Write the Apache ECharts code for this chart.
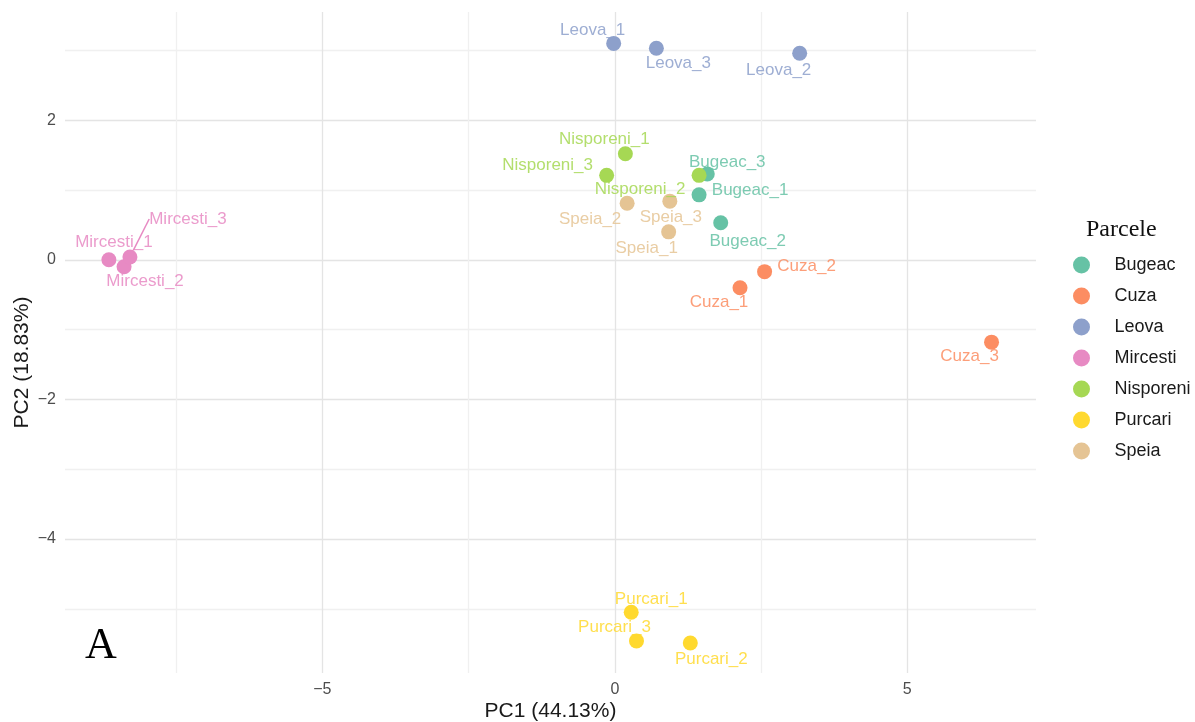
<!DOCTYPE html>
<html>
<head>
<meta charset="utf-8">
<script src="https://cdn.jsdelivr.net/npm/echarts@6/dist/echarts.min.js"></script>
<style>
html,body{margin:0;padding:0;background:#fff;}
#chart{width:1195px;height:722px;}
</style>
</head>
<body>
<div id="chart"></div>
<script>
// ---- data ----
const groups = ['Bugeac','Cuza','Leova','Mircesti','Nisporeni','Purcari','Speia'];
const colors = ['#66C2A5','#FC8D62','#8DA0CB','#E78AC3','#A6D854','#FFD92F','#E5C494'];

const bugeacNames = ['Bugeac_1','Bugeac_2','Bugeac_3'];
const bugeacPC1 = [1.44, 1.81, 1.58];
const bugeacPC2 = [0.93, 0.53, 1.23];

const cuzaNames = ['Cuza_1','Cuza_2','Cuza_3'];
const cuzaPC1 = [2.14, 2.56, 6.44];
const cuzaPC2 = [-0.40, -0.17, -1.18];

const leovaNames = ['Leova_1','Leova_2','Leova_3'];
const leovaPC1 = [-0.02, 3.16, 0.71];
const leovaPC2 = [3.10, 2.96, 3.03];

const mircestiNames = ['Mircesti_1','Mircesti_2','Mircesti_3'];
const mircestiPC1 = [-8.65, -8.39, -8.29];
const mircestiPC2 = [0.00, -0.10, 0.04];

const nisporeniNames = ['Nisporeni_1','Nisporeni_2','Nisporeni_3'];
const nisporeniPC1 = [0.18, 1.44, -0.14];
const nisporeniPC2 = [1.52, 1.21, 1.21];

const purcariNames = ['Purcari_1','Purcari_2','Purcari_3'];
const purcariPC1 = [0.28, 1.29, 0.37];
const purcariPC2 = [-5.05, -5.49, -5.46];

const speiaNames = ['Speia_1','Speia_2','Speia_3'];
const speiaPC1 = [0.92, 0.21, 0.94];
const speiaPC2 = [0.40, 0.81, 0.84];

const xTickLabels = [-5, 0, 5];
const xGridValues = [-7.5, -5, -2.5, 0, 2.5, 5];
const yTickLabels = [-4, -2, 0, 2];
const yGridValues = [-5, -4, -3, -2, -1, 0, 1, 2, 3];

// ---- label placement (pixel offsets, repel-like) ----
const labelOffsets = {
  Bugeac_1:[51,-5], Bugeac_2:[27,19], Bugeac_3:[20,-12],
  Cuza_1:[-21,15], Cuza_2:[42,-5], Cuza_3:[-22,14],
  Leova_1:[-21,-13], Leova_2:[-21,17], Leova_3:[22,15],
  Mircesti_1:[5,-17], Mircesti_2:[21,15], Mircesti_3:[58,-38],
  Nisporeni_1:[-21,-14], Nisporeni_2:[-59,14], Nisporeni_3:[-59,-10],
  Purcari_1:[20,-13], Purcari_2:[21,16], Purcari_3:[-22,-14],
  Speia_1:[-22,16], Speia_2:[-37,16], Speia_3:[1,16]
};
const labelWithSegment = ['Mircesti_3'];

const groupData = [
  [bugeacNames, bugeacPC1, bugeacPC2],
  [cuzaNames, cuzaPC1, cuzaPC2],
  [leovaNames, leovaPC1, leovaPC2],
  [mircestiNames, mircestiPC1, mircestiPC2],
  [nisporeniNames, nisporeniPC1, nisporeniPC2],
  [purcariNames, purcariPC1, purcariPC2],
  [speiaNames, speiaPC1, speiaPC2]
];

const fmt = v => String(v).replace('-', '\u2212');
const FONT = "'Liberation Sans', Arial, sans-serif";

const series = groups.map((g, gi) => {
  const [names, xs, ys] = groupData[gi];
  return {
    name: g,
    type: 'scatter',
    symbol: 'circle',
    symbolSize: 15,
    itemStyle: { color: colors[gi], opacity: 1 },
    label: {
      show: true,
      position: 'inside',
      formatter: p => p.name,
      color: colors[gi],
      opacity: 0.85,
      fontSize: 17,
      fontFamily: FONT
    },
    labelLine: { show: false, lineStyle: { color: colors[gi], width: 1.5 } },
    labelLayout: function (params) {
      const nm = names[params.dataIndex];
      const off = labelOffsets[nm] || [0, 0];
      return { dx: off[0], dy: off[1] };
    },
    data: names.map((n, i) => {
      const item = { name: n, value: [xs[i], ys[i]] };
      if (labelWithSegment.indexOf(n) >= 0) {
        item.labelLine = { show: true, lineStyle: { color: colors[gi], width: 1.5 } };
      }
      return item;
    }),
    emphasis: { disabled: true },
    animation: false
  };
});

const chart = echarts.init(document.getElementById('chart'), null, { renderer: 'canvas' });
chart.setOption({
  backgroundColor: '#ffffff',
  animation: false,
  color: colors,
  grid: { left: 65, right: 159, top: 12, bottom: 49, containLabel: false, outerBoundsMode: 'none' },
  xAxis: {
    type: 'value',
    min: -9.4, max: 7.2,
    axisLine: { show: false },
    axisTick: { show: false, customValues: xGridValues },
    axisLabel: { customValues: xTickLabels, formatter: fmt, fontSize: 16, color: '#4d4d4d', fontFamily: FONT, margin: 9 },
    splitLine: { show: true, lineStyle: { color: ['#f0f0f0', '#e4e4e4'], width: 1.3 } },
    name: 'PC1 (44.13%)',
    nameLocation: 'middle',
    nameGap: 28,
    nameMoveOverlap: false,
    nameTextStyle: { fontSize: 21, color: '#1a1a1a', fontFamily: FONT }
  },
  yAxis: {
    type: 'value',
    min: -5.92, max: 3.55,
    axisLine: { show: false },
    axisTick: { show: false, customValues: yGridValues },
    axisLabel: { customValues: yTickLabels, formatter: fmt, fontSize: 16, color: '#4d4d4d', fontFamily: FONT, margin: 9 },
    splitLine: { show: true, lineStyle: { color: ['#f0f0f0', '#e4e4e4'], width: 1.3 } },
    name: 'PC2 (18.83%)',
    nameLocation: 'middle',
    nameGap: 32,
    nameMoveOverlap: false,
    nameTextStyle: { fontSize: 21, color: '#1a1a1a', fontFamily: FONT, padding: [0, 40, 0, 0] }
  },
  title: {
    text: 'Parcele',
    left: 1081, top: 213,
    textStyle: { fontFamily: "'Liberation Serif', 'Times New Roman', serif", fontSize: 24, fontWeight: 'normal', color: '#111' }
  },
  legend: {
    data: groups,
    orient: 'vertical',
    left: 1068, top: 251,
    icon: 'circle',
    itemWidth: 34, itemHeight: 17, itemGap: 13,
    textStyle: { fontSize: 18, color: '#1a1a1a', fontFamily: FONT, padding: [0, 0, 0, 11] },
    selectedMode: false
  },
  graphic: [
    { type: 'text', left: 85, top: 624, style: { text: 'A', font: "44px 'Liberation Serif', 'Times New Roman', serif", fill: '#000' } }
  ],
  series: series
});
</script>
</body>
</html>
